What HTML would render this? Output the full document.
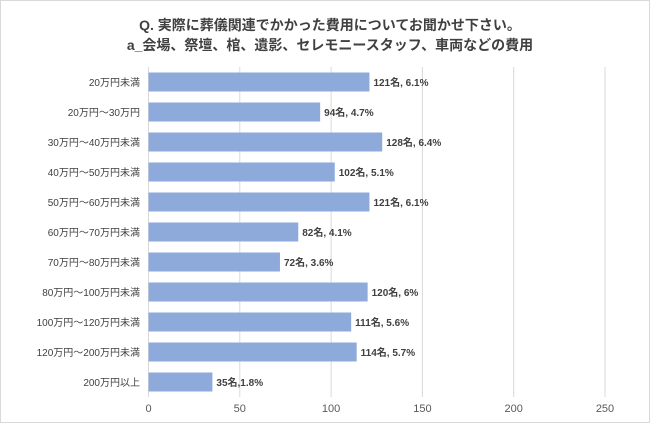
<!DOCTYPE html>
<html><head><meta charset="utf-8"><style>
body{margin:0;background:#fff;}
svg{display:block;font-family:"Liberation Sans","Noto Sans CJK JP",sans-serif;}
</style></head><body>
<svg id="chart" width="650" height="423">
<rect x="0.5" y="0.5" width="649" height="422" fill="#fff" stroke="#d9d9d9"/>
<text x="330" y="30" text-anchor="middle" font-size="14" font-weight="bold" fill="#404040">Q. 実際に葬儀関連でかかった費用についてお聞かせ下さい。</text>
<text x="330" y="50" text-anchor="middle" font-size="14" font-weight="bold" fill="#404040">a_会場、祭壇、棺、遺影、セレモニースタッフ、車両などの費用</text>
<g id="grid"></g><g id="bars"></g><g id="labels"></g>
</svg>
<script>
const categories=["20万円未満","20万円～30万円","30万円～40万円未満","40万円～50万円未満","50万円～60万円未満","60万円～70万円未満","70万円～80万円未満","80万円～100万円未満","100万円～120万円未満","120万円～200万円未満","200万円以上"];
const values=[121,94,128,102,121,82,72,120,111,114,35];
const valueLabels=["121名, 6.1%","94名, 4.7%","128名, 6.4%","102名, 5.1%","121名, 6.1%","82名, 4.1%","72名, 3.6%","120名, 6%","111名, 5.6%","114名, 5.7%","35名,1.8%"];
const ticks=[0,50,100,150,200,250];
const NS="http://www.w3.org/2000/svg";
const x0=148.5,x1=605,xmax=250,top0=67,rowH=30,barH=19;
const xs=v=>x0+(v/xmax)*(x1-x0);
const yc=i=>top0+rowH*i+rowH/2;
function mk(t,a,p){const e=document.createElementNS(NS,t);for(const k in a)e.setAttribute(k,a[k]);p.appendChild(e);return e;}
const g=document.getElementById('grid'),b=document.getElementById('bars'),l=document.getElementById('labels');
ticks.forEach(t=>{
 const ln=mk('line',{x1:xs(t),x2:xs(t),y1:top0,y2:top0+rowH*categories.length,stroke:'#d9d9d9','stroke-width':1},g);
 
 
 const tx=mk('text',{x:xs(t),y:412,'text-anchor':'middle','font-size':11,fill:'#595959'},l);
 tx.textContent=t;
 
 
});
categories.forEach((c,i)=>{
 const r=mk('rect',{x:x0,y:yc(i)-barH/2,width:xs(values[i])-x0,height:barH,fill:'#8eaadb'},b);
 
 
 const ct=mk('text',{x:140,y:yc(i)+4,'text-anchor':'end','font-size':10,fill:'#404040'},l);
 ct.textContent=c;
 
 
 const vt=mk('text',{x:xs(values[i])+4,y:yc(i)+4,'font-size':10,'font-weight':'bold',fill:'#404040'},l);
 vt.textContent=valueLabels[i];
 
 
});
</script>
</body></html>
